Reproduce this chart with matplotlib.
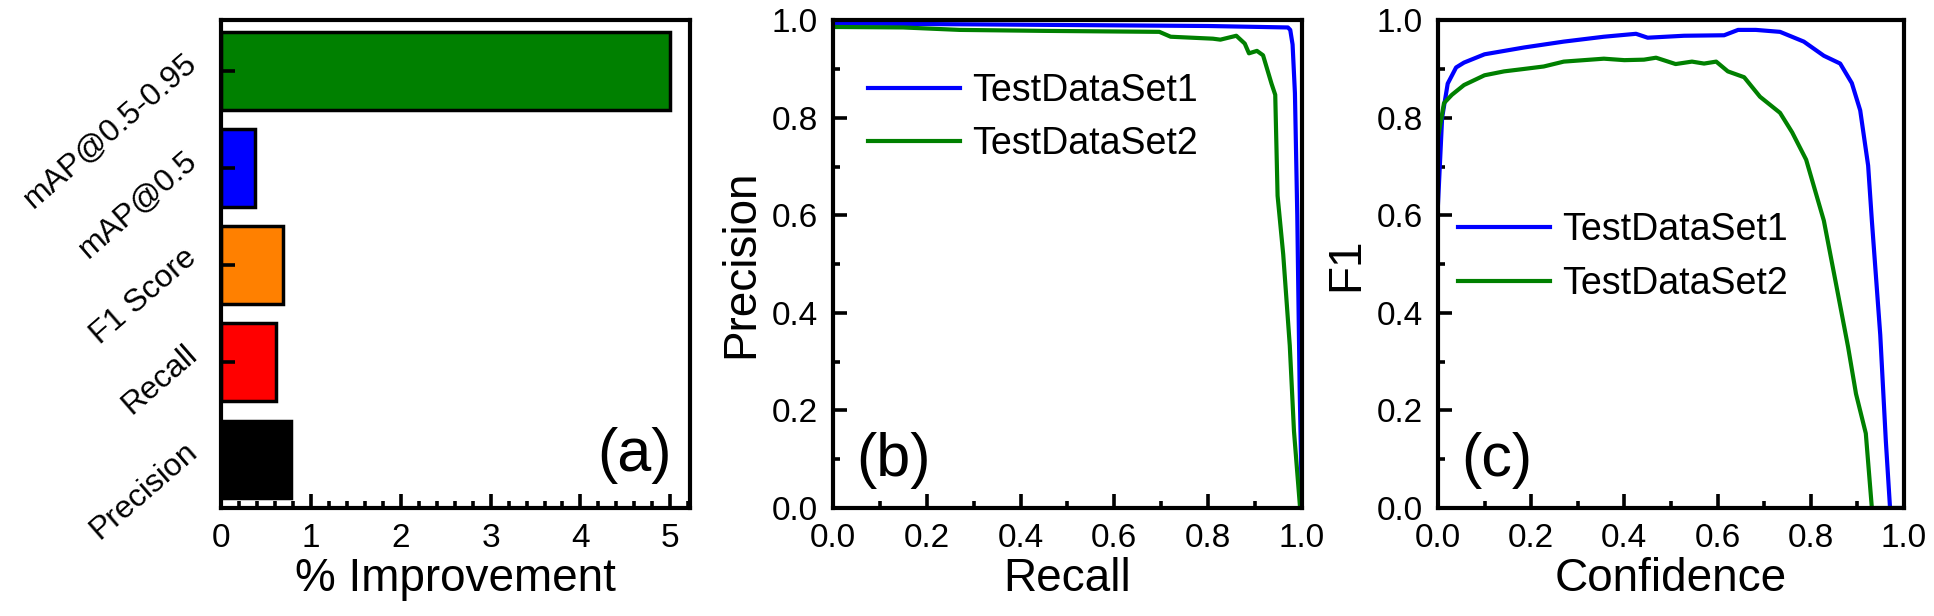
import numpy as np
import matplotlib
matplotlib.use("Agg")
from matplotlib import pyplot as plt
from matplotlib.ticker import MultipleLocator

plt.rcParams['font.family'] = ['Liberation Sans', 'DejaVu Sans']

# (a) % improvement per metric
metrics = ['Precision', 'Recall', 'F1 Score', 'mAP@0.5', 'mAP@0.5-0.95']
improvement = [0.78, 0.61, 0.69, 0.38, 5.0]
bar_colors = ['#000000', '#ff0000', '#ff8000', '#0000ff', '#008000']

# (b) precision-recall curves
recall1 = [0.0, 0.2, 0.5, 0.8, 0.97, 0.975, 0.98, 0.985, 0.99, 0.995, 1.0]
precision1 = [0.993, 0.992, 0.99, 0.988, 0.985, 0.98, 0.95, 0.85, 0.6, 0.25, 0.0]
recall2 = [0.0, 0.15, 0.27, 0.45, 0.696, 0.72, 0.81, 0.826, 0.86, 0.878, 0.887,
           0.904, 0.917, 0.935, 0.943, 0.948, 0.96, 0.974, 0.983, 0.996]
precision2 = [0.986, 0.985, 0.98, 0.978, 0.976, 0.966, 0.962, 0.96, 0.968, 0.952, 0.932,
              0.937, 0.928, 0.87, 0.847, 0.64, 0.52, 0.333, 0.157, 0.0]

# (c) F1-confidence curves
conf1 = [0.0, 0.009, 0.021, 0.039, 0.056, 0.1, 0.185, 0.27, 0.356, 0.425, 0.45, 0.528,
         0.614, 0.644, 0.682, 0.734, 0.785, 0.828, 0.863, 0.888, 0.906, 0.923, 0.931,
         0.949, 0.961, 0.97, 1.0]
f1_1 = [0.62, 0.8, 0.87, 0.903, 0.913, 0.93, 0.944, 0.956, 0.966, 0.972, 0.964, 0.968,
        0.969, 0.98, 0.98, 0.976, 0.956, 0.927, 0.911, 0.871, 0.815, 0.702, 0.589,
        0.355, 0.137, 0.0, 0.0]
conf2 = [0.0, 0.013, 0.03, 0.056, 0.1, 0.142, 0.185, 0.227, 0.27, 0.313, 0.356, 0.4,
         0.442, 0.468, 0.51, 0.545, 0.571, 0.597, 0.622, 0.657, 0.691, 0.734, 0.76,
         0.79, 0.828, 0.854, 0.88, 0.897, 0.918, 0.931, 1.0]
f1_2 = [0.758, 0.83, 0.847, 0.867, 0.887, 0.895, 0.9, 0.905, 0.915, 0.918, 0.921, 0.918,
        0.919, 0.923, 0.91, 0.915, 0.911, 0.915, 0.895, 0.883, 0.843, 0.81, 0.77,
        0.714, 0.589, 0.46, 0.33, 0.234, 0.153, 0.0, 0.0]

TICK = 24
LEG = 27
LABEL = 33
PANEL = 44

fig = plt.figure(figsize=(19.34, 6.16), dpi=100)
ax1 = fig.add_axes([0.1143, 0.1753, 0.2425, 0.792])
ax2 = fig.add_axes([0.4307, 0.1753, 0.2425, 0.792])
ax3 = fig.add_axes([0.7435, 0.1753, 0.241, 0.792])

for ax in (ax1, ax2, ax3):
    for s in ax.spines.values():
        s.set_linewidth(3)
    ax.tick_params(which='major', direction='in', length=10, width=2.6, labelsize=TICK, pad=11)
    ax.tick_params(which='minor', direction='in', length=5, width=2.6)

# panel (a)
ypos = np.arange(len(metrics))
ax1.barh(ypos, improvement, height=0.8, color=bar_colors, edgecolor='black', linewidth=2.5)
ax1.set_xlim(0, 5.22)
ax1.set_ylim(-0.5, 4.52)
ax1.set_yticks(ypos)
ax1.set_yticklabels(metrics, rotation=41, ha='right', va='bottom',
                    rotation_mode='anchor', fontsize=23)
ax1.tick_params(axis='y', pad=13)
ax1.xaxis.set_major_locator(MultipleLocator(1))
ax1.xaxis.set_minor_locator(MultipleLocator(0.2))
ax1.set_xlabel('% Improvement', fontsize=LABEL, labelpad=2)
ax1.text(0.96, 0.05, '(a)', transform=ax1.transAxes, fontsize=PANEL, ha='right', va='bottom')

# panel (b)
ax2.plot(recall1, precision1, color='#0000ff', lw=3, label='TestDataSet1')
ax2.plot(recall2, precision2, color='#008000', lw=3, label='TestDataSet2')
ax2.set_xlim(0, 1)
ax2.set_ylim(0, 1)
ax2.set_xlabel('Recall', fontsize=LABEL, labelpad=2)
ax2.set_ylabel('Precision', fontsize=LABEL, labelpad=6)
ax2.text(0.05, 0.04, '(b)', transform=ax2.transAxes, fontsize=PANEL, ha='left', va='bottom')
ax2.legend(loc='upper left', bbox_to_anchor=(0.043, 0.923), frameon=False, fontsize=LEG,
           handlelength=2.45, handletextpad=0.32, labelspacing=0.47, borderaxespad=0)

# panel (c)
ax3.plot(conf1, f1_1, color='#0000ff', lw=3, label='TestDataSet1')
ax3.plot(conf2, f1_2, color='#008000', lw=3, label='TestDataSet2')
ax3.set_xlim(0, 1)
ax3.set_ylim(0, 1)
ax3.set_xlabel('Confidence', fontsize=LABEL, labelpad=2)
ax3.set_ylabel('F1', fontsize=LABEL, labelpad=6)
ax3.text(0.05, 0.04, '(c)', transform=ax3.transAxes, fontsize=PANEL, ha='left', va='bottom')
ax3.legend(loc='upper left', bbox_to_anchor=(0.011, 0.637), frameon=False, fontsize=LEG,
           handlelength=2.45, handletextpad=0.32, labelspacing=0.47, borderaxespad=0)

for ax in (ax2, ax3):
    ax.xaxis.set_major_locator(MultipleLocator(0.2))
    ax.xaxis.set_minor_locator(MultipleLocator(0.1))
    ax.yaxis.set_major_locator(MultipleLocator(0.2))
    ax.yaxis.set_minor_locator(MultipleLocator(0.1))
    ax.xaxis.set_major_formatter(plt.FormatStrFormatter('%.1f'))
    ax.yaxis.set_major_formatter(plt.FormatStrFormatter('%.1f'))

plt.savefig('out.png', dpi=100)
